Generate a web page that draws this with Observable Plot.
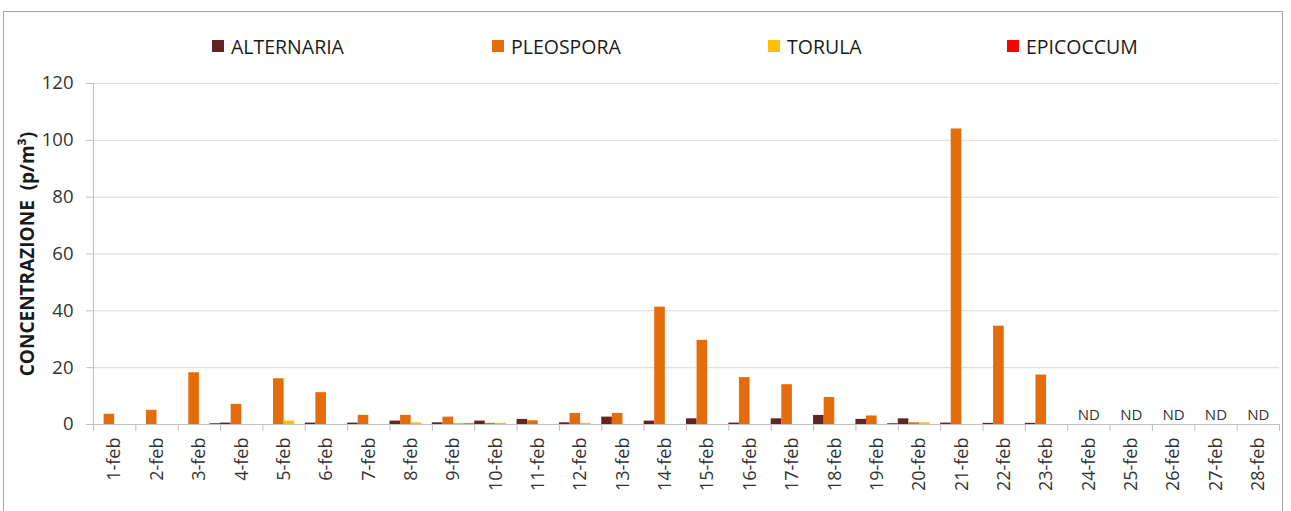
<!DOCTYPE html>
<html>
<head>
<meta charset="utf-8">
<script src="https://cdn.jsdelivr.net/npm/d3@7"></script>
<script src="https://cdn.jsdelivr.net/npm/@observablehq/plot@0.6"></script>
<style>
  html, body { margin: 0; padding: 0; background: #fff; }
  #root { position: relative; width: 1291px; height: 511px; overflow: hidden; background: #fff; font-family: "Open Sans", sans-serif; }
  #frame { position: absolute; left: 3px; top: 11px; width: 1280px; height: 540px; border: 1px solid #a6a6a6; box-sizing: border-box; }
  #legend { position: absolute; top: 32px; left: 0; width: 1291px; height: 28px; }
  .item { position: absolute; top: 0; display: flex; align-items: center; height: 28px; font-size: 19.5px; color: #1a1a1a; }
  .sw { width: 12px; height: 12px; margin-right: 7px; }
  #chart { position: absolute; left: 0; top: 62px; }
</style>
</head>
<body>
<div id="root">
  <div id="frame"></div>
  <div id="legend"></div>
  <div id="chart"></div>
</div>
<script>
const dates = ["1-feb","2-feb","3-feb","4-feb","5-feb","6-feb","7-feb","8-feb","9-feb","10-feb","11-feb","12-feb","13-feb","14-feb","15-feb","16-feb","17-feb","18-feb","19-feb","20-feb","21-feb","22-feb","23-feb","24-feb","25-feb","26-feb","27-feb","28-feb"];
const series = ["ALTERNARIA","PLEOSPORA","TORULA","EPICOCCUM"];
const colors = ["#632523","#E46C0A","#FFC000","#FF0000"];
const alternaria = [0,0,0,0.5,0,0.5,0.5,1.2,0.6,1.2,1.8,0.6,2.6,1.2,2.0,0.5,2.0,3.2,1.8,2.0,0.5,0.4,0.4,null,null,null,null,null];
const pleospora  = [3.6,5.0,18.2,7.1,16.1,11.2,3.2,3.2,2.6,0.4,1.3,3.9,3.9,41.3,29.6,16.5,14.0,9.5,3.0,0.6,104.0,34.6,17.4,null,null,null,null,null];
const torula     = [0,0,0,0,1.2,0,0,0.6,0.4,0.4,0,0.4,0,0,0,0,0,0,0,0.6,0,0,0,null,null,null,null,null];
const epicoccum  = [0,0,0.3,0,0,0,0,0,0.2,0,0,0,0,0,0,0,0,0,0.3,0,0,0,0,null,null,null,null,null];
const ndText = "ND";
const yTicks = [0,20,40,60,80,100,120];
const yTitle = "CONCENTRAZIONE  (p/m³)";
const legendLeft = [212, 492, 768, 1007];

const values = [alternaria, pleospora, torula, epicoccum];
const rows = [];
dates.forEach((d, i) => series.forEach((s, k) => {
  const v = values[k][i];
  if (v != null && v > 0) rows.push({i, k, date: d, series: s, value: v});
}));
const ndRows = dates.map((d, i) => ({i, date: d})).filter(r => values.every(a => a[r.i] == null));
const n = dates.length, m = series.length;

const plot = Plot.plot({
  width: 1291, height: 449,
  marginLeft: 93, marginRight: 12, marginTop: 21, marginBottom: 87,
  style: {fontFamily: "'Open Sans', sans-serif", color: "#333", background: "transparent", overflow: "visible"},
  x: {type: "linear", domain: [0, n], axis: null},
  y: {domain: [0, 120], axis: null},
  color: {domain: series, range: colors},
  marks: [
    Plot.gridY(yTicks.filter(t => t > 0), {stroke: "#d9d9d9", strokeOpacity: 1}),
    Plot.rectY(rows, {x1: d => d.i + d.k / m, x2: d => d.i + (d.k + 1) / m, y1: 0, y2: "value", fill: "series", inset: 0}),
    Plot.ruleY([0], {stroke: "#bfbfbf"}),
    Plot.ruleX([0], {y1: 0, y2: 120, stroke: "#bfbfbf"}),
    Plot.axisY({ticks: yTicks, tickSize: 7, tickPadding: 13, fontSize: 18.5, stroke: "#bfbfbf", fill: "#333", label: null}),
    Plot.axisX({ticks: d3.range(n + 1), tickSize: 7, tickFormat: () => "", stroke: "#bfbfbf", label: null}),
    Plot.text(dates, {x: (d, i) => i + 0.5, frameAnchor: "bottom", dy: 13, rotate: -90, textAnchor: "end", lineAnchor: "middle", fontSize: 18, fill: "#333"}),
    Plot.text(ndRows, {x: d => d.i + 0.5, y: 0, dy: -9, text: () => ndText, fontSize: 15, fill: "#333"}),
    Plot.text([yTitle], {frameAnchor: "left", dx: -66, rotate: -90, textAnchor: "middle", lineAnchor: "middle", fontWeight: "bold", fontSize: 19, fill: "#1a1a1a"})
  ]
});
document.getElementById("chart").appendChild(plot);

const legend = document.getElementById("legend");
series.forEach((s, k) => {
  const it = document.createElement("div");
  it.className = "item";
  it.style.left = legendLeft[k] + "px";
  const sw = document.createElement("span");
  sw.className = "sw";
  sw.style.background = colors[k];
  it.appendChild(sw);
  it.appendChild(document.createTextNode(s));
  legend.appendChild(it);
});
</script>
</body>
</html>
